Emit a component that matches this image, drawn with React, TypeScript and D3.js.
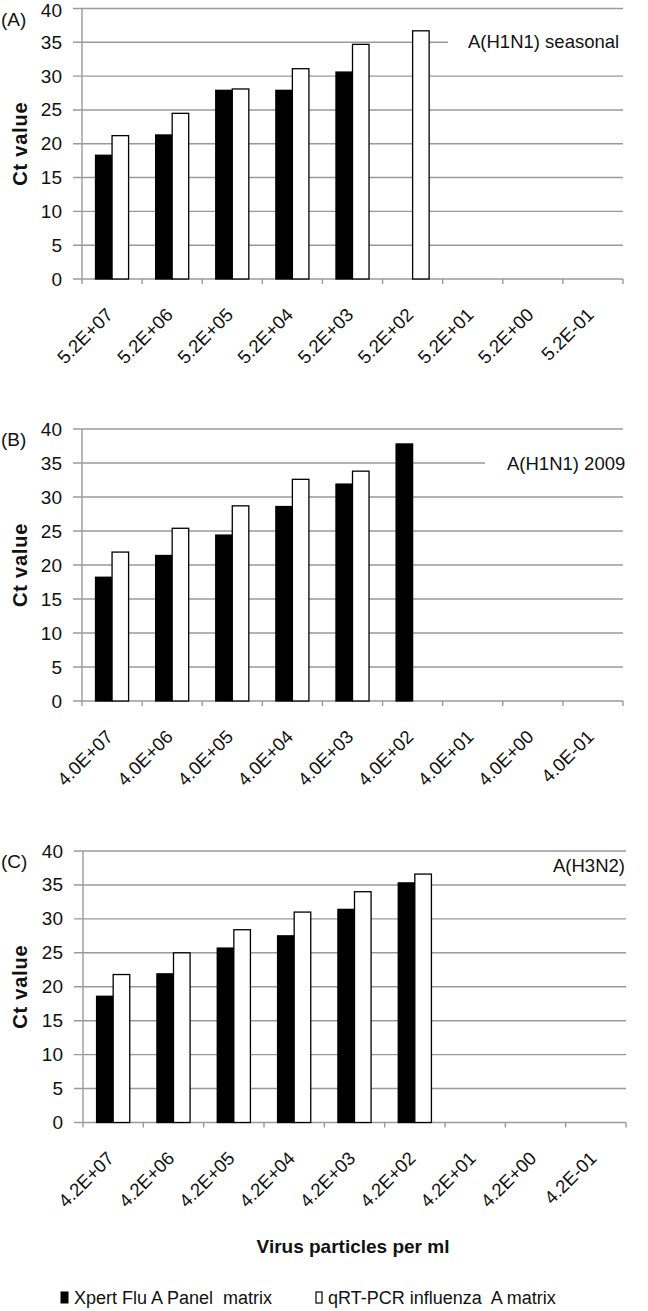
import React from 'react';
import { scaleBand, scaleLinear } from 'd3';

const seriesNames = ['Xpert Flu A Panel  matrix', 'qRT-PCR influenza  A matrix'];
const yTicks = [0, 5, 10, 15, 20, 25, 30, 35, 40];

const categoriesA = ['5.2E+07', '5.2E+06', '5.2E+05', '5.2E+04', '5.2E+03', '5.2E+02', '5.2E+01', '5.2E+00', '5.2E-01'];
const xpertA = [18.3, 21.3, 27.9, 27.9, 30.6, null, null, null, null];
const qrtA = [21.2, 24.5, 28.1, 31.1, 34.7, 36.7, null, null, null];

const categoriesB = ['4.0E+07', '4.0E+06', '4.0E+05', '4.0E+04', '4.0E+03', '4.0E+02', '4.0E+01', '4.0E+00', '4.0E-01'];
const xpertB = [18.2, 21.4, 24.4, 28.6, 31.9, 37.8, null, null, null];
const qrtB = [21.9, 25.4, 28.7, 32.6, 33.8, null, null, null, null];

const categoriesC = ['4.2E+07', '4.2E+06', '4.2E+05', '4.2E+04', '4.2E+03', '4.2E+02', '4.2E+01', '4.2E+00', '4.2E-01'];
const xpertC = [18.6, 21.9, 25.7, 27.5, 31.4, 35.3, null, null, null];
const qrtC = [21.8, 25.0, 28.4, 31.0, 34.0, 36.6, null, null, null];

const FONT = 'Liberation Sans, Arial, sans-serif';
const GRID = '#9a9a9a';

type PanelProps = {
  tag: string;
  title: string;
  categories: string[];
  xpert: (number | null)[];
  qrt: (number | null)[];
  left: number;
  right: number;
  top: number;
  bottom: number;
  titleX: number;
  titleY: number;
  boxX: number | null;
};

function Panel(p: PanelProps) {
  const y = scaleLinear().domain([0, 40]).range([p.bottom, p.top]);
  const x0 = scaleBand<string>()
    .domain(p.categories)
    .range([p.left, p.right])
    .paddingInner(0.45)
    .paddingOuter(0.225);
  const x1 = scaleBand<string>().domain(seriesNames).range([0, x0.bandwidth()]);
  const step = x0.step();
  const series = [p.xpert, p.qrt];

  return (
    <g>
      {/* grid lines */}
      {yTicks.map(t => (
        <g key={t}>
          <line x1={p.left - 9} x2={p.right} y1={y(t)} y2={y(t)} stroke={GRID} strokeWidth={1.4} />
          <text x={p.left - 20} y={Math.max(y(t), 10.5)} textAnchor="end" dominantBaseline="central" fontSize={19} fontFamily={FONT} fill="#111">{t}</text>
        </g>
      ))}
      <line x1={p.left} x2={p.left} y1={p.top} y2={p.bottom + 5} stroke={GRID} strokeWidth={1.4} />
      {p.categories.map((c, i) => (
        <line key={'t' + i} x1={p.left + (i + 1) * step} x2={p.left + (i + 1) * step} y1={p.bottom} y2={p.bottom + 5} stroke={GRID} strokeWidth={1.4} />
      ))}
      {p.boxX !== null && (
        <rect x={p.boxX} y={p.titleY - 8} width={p.right - p.boxX + 2} height={16} fill="#fff" />
      )}
      <text x={p.titleX} y={p.titleY} dominantBaseline="central" fontSize={18.5} fontFamily={FONT} fill="#111">{p.title}</text>
      <text x={1} y={Math.max(p.top + 10, 19)} dominantBaseline="central" fontSize={19} fontFamily={FONT} fill="#111">{p.tag}</text>
      {/* bars */}
      {series.map((vals, si) =>
        vals.map((v, i) =>
          v === null ? null : (
            <rect
              key={si + '-' + i}
              x={(x0(p.categories[i]) as number) + (x1(seriesNames[si]) as number)}
              y={y(v)}
              width={x1.bandwidth()}
              height={y(0) - y(v)}
              fill={si === 0 ? '#000' : '#fff'}
              stroke="#000"
              strokeWidth={1.3}
            />
          )
        )
      )}
      {/* category labels */}
      {p.categories.map(c => {
        const cx = (x0(c) as number) + x0.bandwidth() / 2 + 2;
        const ly = p.bottom + 37;
        return (
          <text key={c} x={cx} y={ly} transform={`rotate(-45, ${cx}, ${ly})`} textAnchor="end" fontSize={18.5} fontFamily={FONT} fill="#111">{c}</text>
        );
      })}
      <text
        x={20}
        y={(p.top + p.bottom) / 2}
        transform={`rotate(-90, 20, ${(p.top + p.bottom) / 2})`}
        textAnchor="middle"
        dominantBaseline="central"
        fontSize={20}
        fontWeight="bold"
        fontFamily={FONT}
        letterSpacing={0.8}
        fill="#111"
      >Ct value</text>
    </g>
  );
}

export default function App() {
  return (
    <svg width={648} height={1311} style={{ position: 'absolute', left: 0, top: 0, background: '#fff' }}>
      <rect x={0} y={0} width={648} height={1311} fill="#fff" />
      <Panel tag="(A)" title="A(H1N1) seasonal" categories={categoriesA} xpert={xpertA} qrt={qrtA}
        left={82} right={623} top={8.5} bottom={279} titleX={468} titleY={41} boxX={448} />
      <Panel tag="(B)" title="A(H1N1) 2009" categories={categoriesB} xpert={xpertB} qrt={qrtB}
        left={82} right={623} top={429} bottom={701} titleX={507} titleY={463} boxX={485} />
      <Panel tag="(C)" title="A(H3N2)" categories={categoriesC} xpert={xpertC} qrt={qrtC}
        left={83} right={626} top={851} bottom={1122.5} titleX={553} titleY={865} boxX={null} />
      <text x={353} y={1246} textAnchor="middle" dominantBaseline="central" fontSize={19} fontWeight="bold" fontFamily={FONT} fill="#111">Virus particles per ml</text>
      {/* legend */}
      <rect x={61} y={1292} width={7} height={11} fill="#000" stroke="#000" strokeWidth={1} />
      <text x={74} y={1304} fontSize={18} fontFamily={FONT} fill="#111" style={{ whiteSpace: 'pre' }}>{seriesNames[0]}</text>
      <rect x={316} y={1292} width={6} height={11} fill="#fff" stroke="#000" strokeWidth={1.2} />
      <text x={328} y={1304} fontSize={18} fontFamily={FONT} fill="#111" style={{ whiteSpace: 'pre' }}>{seriesNames[1]}</text>
    </svg>
  );
}
